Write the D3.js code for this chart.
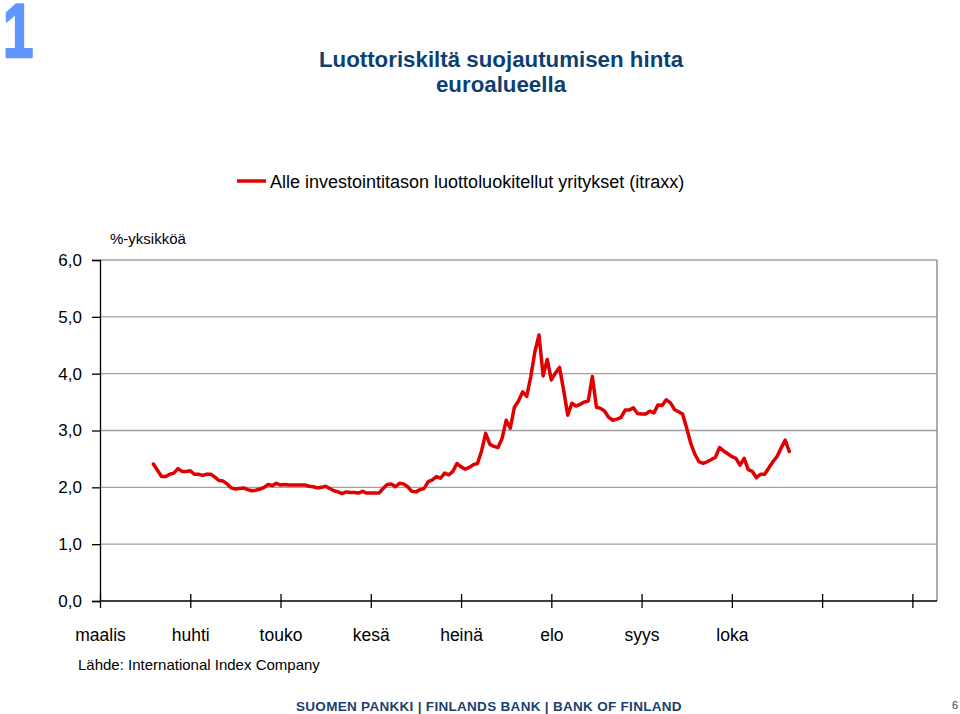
<!DOCTYPE html>
<html>
<head>
<meta charset="utf-8">
<script src="https://cdn.jsdelivr.net/npm/d3@7"></script>
<style>
  html, body { margin: 0; padding: 0; background: #fff; }
  svg { display: block; font-family: "Liberation Sans", Arial, sans-serif; }
</style>
</head>
<body>
<svg id="chart" width="960" height="714"></svg>
<script>
// ---- data ----
const monthLabels = ["maalis", "huhti", "touko", "kesä", "heinä", "elo", "syys", "loka", "", ""];
const yTicks = [0, 1, 2, 3, 4, 5, 6];
const seriesName = "Alle investointitason luottoluokitellut yritykset (itraxx)";
const catsPerMonth = 22;     // trading days per tick interval
const totalCats = 204;       // categories on the axis
const firstCat = 13;         // first observation's category index
const values = [
  2.41, 2.30, 2.19, 2.19, 2.23, 2.25, 2.33, 2.28, 2.28, 2.29, 2.23, 2.23, 2.21, 2.23, 2.23,
  2.18, 2.12, 2.11, 2.06, 1.99, 1.97, 1.98, 1.99, 1.96, 1.94, 1.95, 1.97, 2.00, 2.05, 2.03,
  2.07, 2.04, 2.05, 2.04, 2.04, 2.04, 2.04, 2.04, 2.02, 2.01, 1.99, 2.00, 2.02, 1.98, 1.94,
  1.92, 1.89, 1.92, 1.91, 1.91, 1.90, 1.93, 1.90, 1.90, 1.90, 1.90, 1.98, 2.05, 2.06, 2.01,
  2.07, 2.06, 2.01, 1.93, 1.92, 1.96, 1.98, 2.10, 2.13, 2.19, 2.16, 2.25, 2.22, 2.28, 2.42,
  2.36, 2.32, 2.35, 2.40, 2.42, 2.64, 2.95, 2.76, 2.72, 2.70, 2.86, 3.18, 3.04, 3.41, 3.52,
  3.68, 3.60, 3.95, 4.39, 4.68, 3.96, 4.25, 3.89, 4.01, 4.11, 3.71, 3.27, 3.48, 3.43, 3.46,
  3.50, 3.52, 3.95, 3.41, 3.39, 3.34, 3.23, 3.18, 3.20, 3.23, 3.36, 3.36, 3.40, 3.30, 3.29,
  3.29, 3.34, 3.31, 3.45, 3.44, 3.54, 3.49, 3.37, 3.33, 3.29, 3.04, 2.77, 2.58, 2.45, 2.42,
  2.45, 2.49, 2.53, 2.70, 2.64, 2.59, 2.54, 2.51, 2.39, 2.51, 2.31, 2.28, 2.17, 2.23, 2.23,
  2.34, 2.45, 2.54, 2.69, 2.83, 2.63
];

// ---- layout ----
const svg = d3.select("#chart");
const plot = { left: 100, right: 937, top: 260, bottom: 601 };

const x = d3.scaleLinear().domain([0, totalCats]).range([plot.left, plot.right]);
const y = d3.scaleLinear().domain([0, 6]).range([plot.bottom, plot.top]);

// Big slide number
svg.append("g").attr("transform", "translate(3,57) scale(0.72,1)")
  .append("text").attr("x", 0).attr("y", 0)
  .attr("font-size", 76).attr("font-weight", "bold").attr("fill", "#6196FF")
  .attr("stroke", "#6196FF").attr("stroke-width", 2.5).attr("stroke-linejoin", "round")
  .text("1");

// Title
const title = svg.append("text").attr("text-anchor", "middle")
  .attr("font-size", 22.3).attr("font-weight", "bold").attr("fill", "#0E3F73");
title.append("tspan").attr("x", 501).attr("y", 67).text("Luottoriskiltä suojautumisen hinta");
title.append("tspan").attr("x", 501).attr("y", 92).text("euroalueella");

// Legend
svg.append("line").attr("x1", 237).attr("x2", 266).attr("y1", 181).attr("y2", 181)
  .attr("stroke", "#E00000").attr("stroke-width", 3.5);
svg.append("text").attr("x", 270).attr("y", 188).attr("font-size", 18).attr("fill", "#000")
  .text(seriesName);

// Unit label
svg.append("text").attr("x", 110).attr("y", 244).attr("font-size", 15).attr("fill", "#000")
  .text("%-yksikköä");

// Gridlines
svg.append("g").selectAll("line").data(yTicks.filter(d => d > 0)).join("line")
  .attr("x1", plot.left).attr("x2", plot.right)
  .attr("y1", d => y(d)).attr("y2", d => y(d))
  .attr("stroke", "#a0a0a0").attr("stroke-width", 1.3);

// Right border
svg.append("line").attr("x1", plot.right).attr("x2", plot.right)
  .attr("y1", plot.top).attr("y2", plot.bottom)
  .attr("stroke", "#808080").attr("stroke-width", 1.3);

// Y axis
const yAxis = d3.axisLeft(y).tickValues(yTicks).tickSize(8).tickPadding(10)
  .tickFormat(d => d3.format(".1f")(d).replace(".", ","));
const gy = svg.append("g").attr("transform", `translate(${plot.left},0)`).call(yAxis);
gy.select(".domain").attr("stroke", "#000").attr("stroke-width", 1.3);
gy.selectAll(".tick line").attr("stroke", "#000").attr("stroke-width", 1.3);
gy.selectAll(".tick text").attr("font-size", 17).attr("fill", "#000")
  .attr("font-family", "'Liberation Sans', Arial, sans-serif");

// X axis
const xTickVals = d3.range(0, monthLabels.length).map(i => i * catsPerMonth);
const xAxis = d3.axisBottom(x).tickValues(xTickVals).tickSize(7).tickPadding(21)
  .tickFormat((d, i) => monthLabels[i]);
const gx = svg.append("g").attr("transform", `translate(0,${plot.bottom})`).call(xAxis);
gx.select(".domain").attr("stroke", "#000").attr("stroke-width", 1.3)
  .attr("d", `M${plot.left},0H${plot.right}`);
gx.selectAll(".tick line").attr("y1", -7).attr("stroke", "#000").attr("stroke-width", 1.3);
gx.selectAll(".tick text").attr("font-size", 17.5).attr("fill", "#000")
  .attr("font-family", "'Liberation Sans', Arial, sans-serif");

// Series line
const line = d3.line()
  .x((d, i) => x(firstCat + i))
  .y(d => y(d));
svg.append("path").datum(values).attr("d", line)
  .attr("fill", "none").attr("stroke", "#E00000").attr("stroke-width", 3.5)
  .attr("stroke-linejoin", "round").attr("stroke-linecap", "round");

// Source
svg.append("text").attr("x", 78).attr("y", 670).attr("font-size", 15).attr("fill", "#000")
  .text("Lähde: International Index Company");

// Footer
svg.append("text").attr("x", 296).attr("y", 711).attr("font-size", 13.5).attr("font-weight", "bold")
  .attr("fill", "#1B3F6E").attr("letter-spacing", 0.3)
  .text("SUOMEN PANKKI | FINLANDS BANK | BANK OF FINLAND");
svg.append("text").attr("x", 952).attr("y", 709).attr("font-size", 11).attr("fill", "#1B3F6E")
  .text("6");
</script>
</body>
</html>
